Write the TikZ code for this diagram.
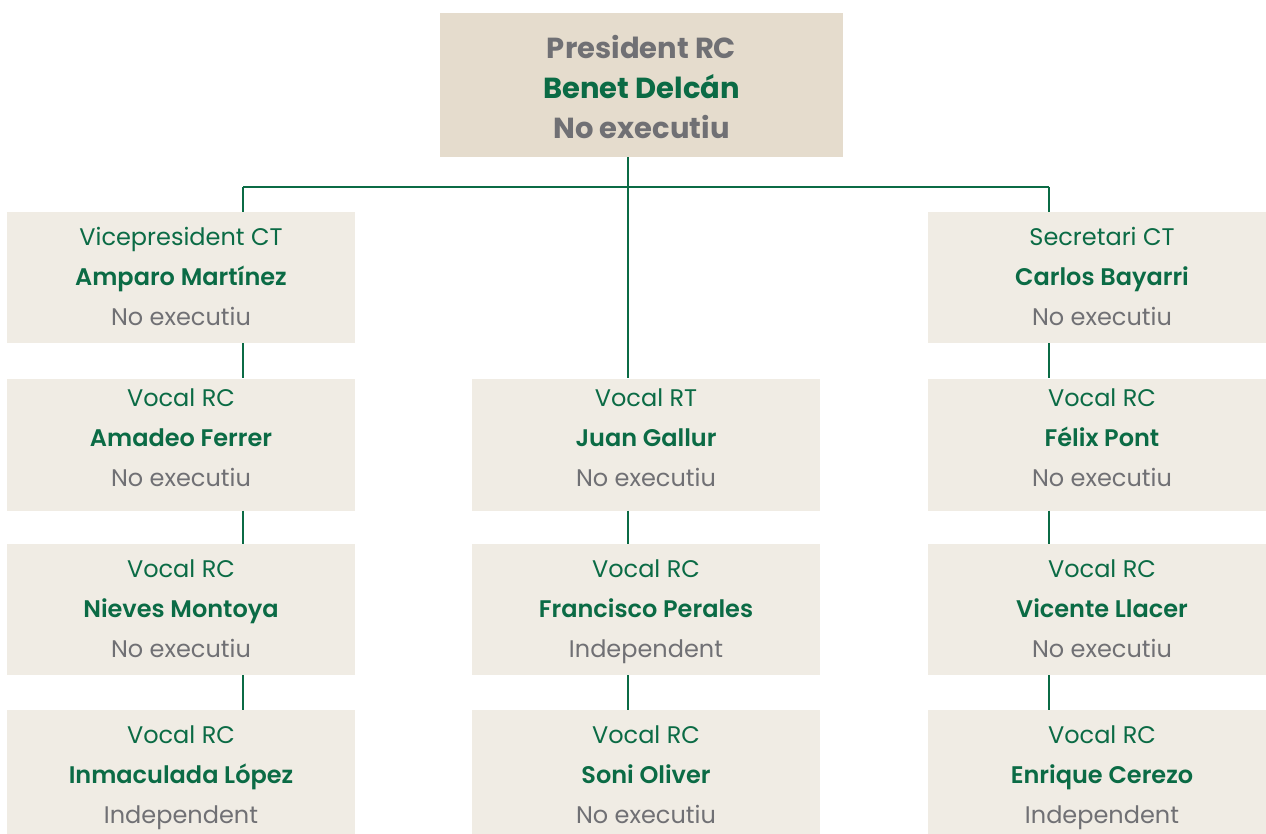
\documentclass[tikz,border=0pt]{standalone}
\usepackage{fontspec}
\setmainfont{Poppins}[BoldFont={Poppins SemiBold}]
\newfontfamily\chairfont{Poppins}[UprightFont={* Bold}]
\usepackage{xcolor}
\usetikzlibrary{positioning}
\definecolor{boardgreen}{HTML}{0B6B45}
\definecolor{boardgray}{HTML}{707074}
\definecolor{chairfill}{HTML}{E5DCCD}
\definecolor{memberfill}{HTML}{F0ECE4}

\begin{document}
\begin{tikzpicture}[x=1pt, y=-1pt,
    member/.style={fill=memberfill, text=boardgreen, minimum width=348pt, minimum height=131pt,
        inner sep=0pt, align=center, font=\fontsize{24}{40}\selectfont},
    chair/.style={fill=chairfill, text=boardgreen, minimum width=403pt, minimum height=144pt,
        inner sep=0pt, align=center, font=\fontsize{29}{40}\chairfont},
    link/.style={draw=boardgreen, line width=2.8pt}]
\useasboundingbox (0,0) rectangle (1266,834);
\clip (0,0) rectangle (1266,834);

% Chair
\node[chair] (pres) at (641.5,85) {\rule{0pt}{40pt}{\color{boardgray}President RC}\\\strut Benet Delcán\\\strut{\color{boardgray}No executiu}};

% Left column
\node[member] (vp) at (181,277.5) {\strut Vicepresident CT\\\strut\textbf{Amparo Martínez}\\\strut{\color{boardgray}No executiu}};
\node[member] (l1) at (181,444.5) {\strut Vocal RC\\\strut\textbf{Amadeo Ferrer}\\\rule[-24pt]{0pt}{1pt}{\color{boardgray}No executiu}};
\node[member] (l2) at (181,609.5) {\strut Vocal RC\\\strut\textbf{Nieves Montoya}\\\strut{\color{boardgray}No executiu}};
\node[member] (l3) at (181,775.5) {\strut Vocal RC\\\strut\textbf{Inmaculada López}\\\strut{\color{boardgray}Independent}};

% Middle column
\node[member] (m1) at (646,444.5) {\strut Vocal RT\\\strut\textbf{Juan Gallur}\\\rule[-24pt]{0pt}{1pt}{\color{boardgray}No executiu}};
\node[member] (m2) at (646,609.5) {\strut Vocal RC\\\strut\textbf{Francisco Perales}\\\strut{\color{boardgray}Independent}};
\node[member] (m3) at (646,775.5) {\strut Vocal RC\\\strut\textbf{Soni Oliver}\\\strut{\color{boardgray}No executiu}};

% Right column
\node[member] (sec) at (1102,277.5) {\strut Secretari CT\\\strut\textbf{Carlos Bayarri}\\\strut{\color{boardgray}No executiu}};
\node[member] (r1) at (1102,444.5) {\strut Vocal RC\\\strut\textbf{Félix Pont}\\\rule[-24pt]{0pt}{1pt}{\color{boardgray}No executiu}};
\node[member] (r2) at (1102,609.5) {\strut Vocal RC\\\strut\textbf{Vicente Llacer}\\\strut{\color{boardgray}No executiu}};
\node[member] (r3) at (1102,775.5) {\strut Vocal RC\\\strut\textbf{Enrique Cerezo}\\\strut{\color{boardgray}Independent}};

% Bus
\coordinate (lbus) at (243,187);
\coordinate (mbus) at (628,187);
\coordinate (rbus) at (1049,187);
\draw[link] (lbus) -- (rbus);

% Connectors
\draw[link] (pres.south -| mbus) -- (m1.north -| mbus);
\draw[link] (m1.south -| mbus) -- (m2.north -| mbus);
\draw[link] (m2.south -| mbus) -- (m3.north -| mbus);
\draw[link] (lbus) -- (vp.north -| lbus);
\draw[link] (vp.south -| lbus) -- (l1.north -| lbus);
\draw[link] (l1.south -| lbus) -- (l2.north -| lbus);
\draw[link] (l2.south -| lbus) -- (l3.north -| lbus);
\draw[link] (rbus) -- (sec.north -| rbus);
\draw[link] (sec.south -| rbus) -- (r1.north -| rbus);
\draw[link] (r1.south -| rbus) -- (r2.north -| rbus);
\draw[link] (r2.south -| rbus) -- (r3.north -| rbus);
\end{tikzpicture}
\end{document}
